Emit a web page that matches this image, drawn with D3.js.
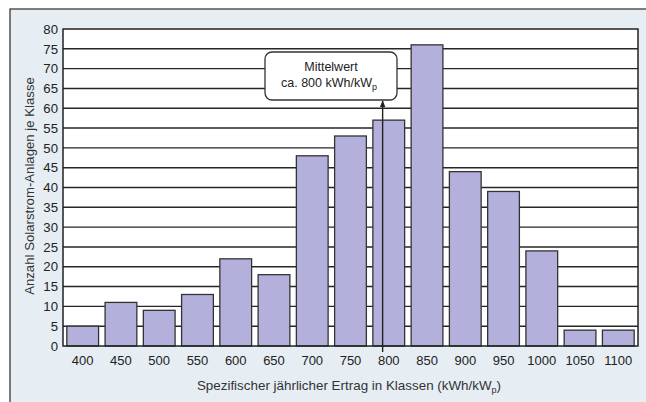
<!DOCTYPE html>
<html>
<head>
<meta charset="utf-8">
<script src="https://cdn.jsdelivr.net/npm/d3@7"></script>
<style>
  html, body { margin: 0; padding: 0; background: #fff; }
  svg { display: block; font-family: "Liberation Sans", Arial, sans-serif; }
</style>
</head>
<body>
<div id="chart"></div>
<script>
// classes of specific yield (kWh/kWp) and number of plants per class
var categories = ["400", "450", "500", "550", "600", "650", "700", "750", "800", "850", "900", "950", "1000", "1050", "1100"];
var counts = [5, 11, 9, 13, 22, 18, 48, 53, 57, 76, 44, 39, 24, 4, 4];
var yTicks = [0, 5, 10, 15, 20, 25, 30, 35, 40, 45, 50, 55, 60, 65, 70, 75, 80];
var meanValue = 792;

var W = 646, H = 402;
var plot = { left: 63, top: 29, right: 638, bottom: 346 };

var svg = d3.select("#chart").append("svg")
    .attr("width", W)
    .attr("height", H);

// light panel behind the chart
svg.append("rect")
    .attr("x", 10).attr("y", 9)
    .attr("width", W + 10).attr("height", H + 10)
    .attr("fill", "#e6eef4")
    .attr("stroke", "#3a3a3a")
    .attr("stroke-width", 1.3);

var x = d3.scaleBand()
    .domain(categories)
    .range([plot.left, plot.right])
    .paddingInner(0.17)
    .paddingOuter(0.1);

var y = d3.scaleLinear()
    .domain([0, 80])
    .range([plot.bottom, plot.top]);

// linear helper so the mean can sit between class centres
var xLin = d3.scaleLinear()
    .domain([+categories[0], +categories[categories.length - 1]])
    .range([x(categories[0]) + x.bandwidth() / 2, x(categories[categories.length - 1]) + x.bandwidth() / 2]);

svg.append("rect")
    .attr("x", plot.left).attr("y", plot.top)
    .attr("width", plot.right - plot.left)
    .attr("height", plot.bottom - plot.top)
    .attr("fill", "#fff");

// grid lines
svg.append("g")
    .selectAll("line")
    .data(yTicks.filter(function (d) { return d > 0 && d < 80; }))
    .enter().append("line")
    .attr("x1", plot.left).attr("x2", plot.right)
    .attr("y1", function (d) { return y(d); })
    .attr("y2", function (d) { return y(d); })
    .attr("stroke", "#262626")
    .attr("stroke-width", 1.4);

// bars
svg.append("g")
    .selectAll("rect")
    .data(counts)
    .enter().append("rect")
    .attr("x", function (d, i) { return x(categories[i]); })
    .attr("y", function (d) { return y(d); })
    .attr("width", x.bandwidth())
    .attr("height", function (d) { return y(0) - y(d); })
    .attr("fill", "#b3b1dc")
    .attr("stroke", "#333")
    .attr("stroke-width", 1.3);

// plot frame
svg.append("rect")
    .attr("x", plot.left).attr("y", plot.top)
    .attr("width", plot.right - plot.left)
    .attr("height", plot.bottom - plot.top)
    .attr("fill", "none")
    .attr("stroke", "#222")
    .attr("stroke-width", 1.5);

// y axis labels
var yAxis = d3.axisLeft(y).tickValues(yTicks).tickSize(0).tickPadding(5);
var gy = svg.append("g")
    .attr("transform", "translate(" + plot.left + ",0)")
    .call(yAxis);
gy.select(".domain").remove();
gy.selectAll("text")
    .attr("font-size", 13.2)
    .attr("fill", "#222")
    .style("font-family", "'Liberation Sans', Arial, sans-serif");

// x axis labels
var xAxis = d3.axisBottom(x).tickSize(0).tickPadding(10);
var gx = svg.append("g")
    .attr("transform", "translate(0," + plot.bottom + ")")
    .call(xAxis);
gx.select(".domain").remove();
gx.selectAll("text")
    .attr("font-size", 13)
    .attr("fill", "#222")
    .style("font-family", "'Liberation Sans', Arial, sans-serif");

// axis titles
svg.append("text")
    .attr("transform", "translate(34,186) rotate(-90)")
    .attr("text-anchor", "middle")
    .attr("font-size", 13.2)
    .attr("fill", "#333")
    .text("Anzahl Solarstrom-Anlagen je Klasse");

var xt = svg.append("text")
    .attr("x", 349).attr("y", 390)
    .attr("text-anchor", "middle")
    .attr("font-size", 13.4)
    .attr("fill", "#333")
    .text("Spezifischer jährlicher Ertrag in Klassen (kWh/kW");
xt.append("tspan").attr("font-size", 9).attr("dy", 3).text("p");
xt.append("tspan").attr("dy", -3).text(")");

// mean marker with callout box
var mx = xLin(meanValue);
var box = { x: 265, y: 52, w: 132, h: 48 };

svg.append("defs").append("marker")
    .attr("id", "arrow")
    .attr("viewBox", "0 0 10 10")
    .attr("refX", 9).attr("refY", 5)
    .attr("markerWidth", 5).attr("markerHeight", 5)
    .attr("orient", "auto")
    .append("path")
    .attr("d", "M0,1 L10,5 L0,9 Z")
    .attr("fill", "#222");

svg.append("line")
    .attr("x1", mx).attr("x2", mx)
    .attr("y1", plot.bottom + 6)
    .attr("y2", box.y + box.h + 1)
    .attr("stroke", "#222")
    .attr("stroke-width", 1.4)
    .attr("marker-end", "url(#arrow)");

svg.append("rect")
    .attr("x", box.x).attr("y", box.y)
    .attr("width", box.w).attr("height", box.h)
    .attr("rx", 7).attr("ry", 7)
    .attr("fill", "#fff")
    .attr("stroke", "#333")
    .attr("stroke-width", 1.3);

svg.append("text")
    .attr("x", box.x + box.w / 2).attr("y", box.y + 19)
    .attr("text-anchor", "middle")
    .attr("font-size", 12.5)
    .attr("fill", "#222")
    .text("Mittelwert");

var bt = svg.append("text")
    .attr("x", box.x + box.w / 2 - 2).attr("y", box.y + 35)
    .attr("text-anchor", "middle")
    .attr("font-size", 12.5)
    .attr("fill", "#222")
    .text("ca. 800 kWh/kW");
bt.append("tspan").attr("font-size", 9).attr("dy", 3).text("p");
</script>
</body>
</html>
